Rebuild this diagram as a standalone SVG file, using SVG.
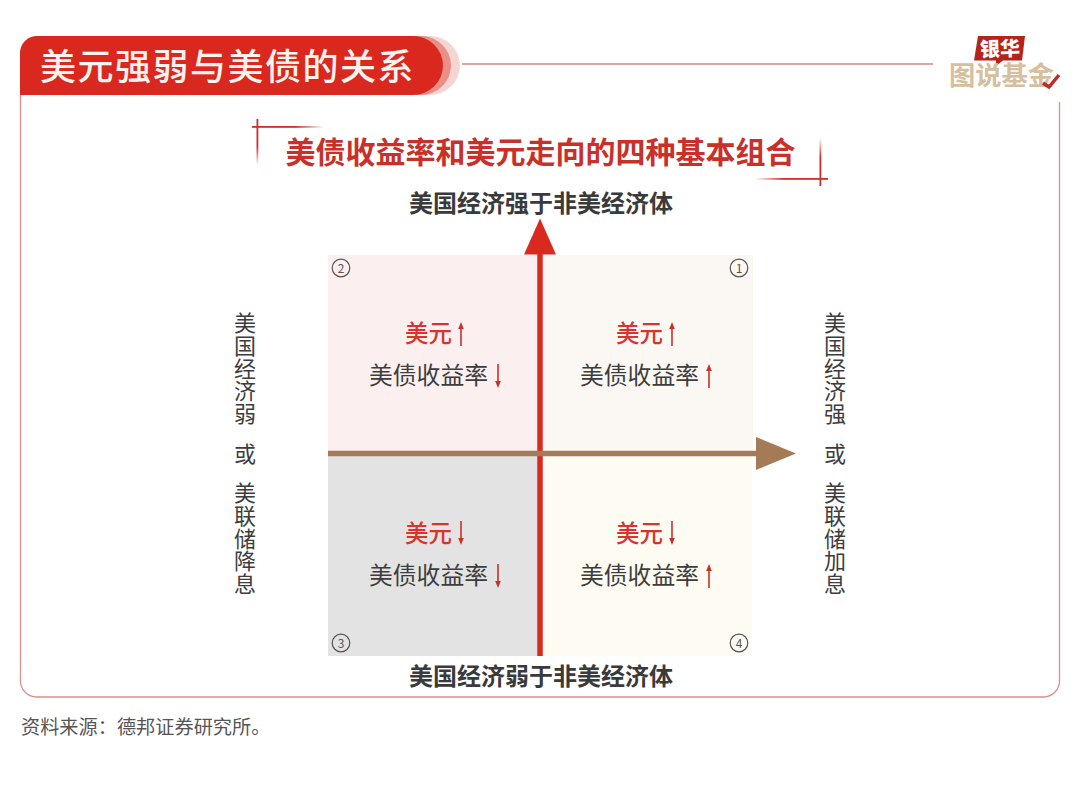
<svg xmlns="http://www.w3.org/2000/svg" width="1080" height="791" viewBox="0 0 1080 791">
<style>
text{font-family:"Noto Sans CJK SC","Liberation Sans",sans-serif}
.ax{font-size:24px;font-weight:700;fill:#3a3a3a;text-anchor:middle}
.us{font-size:23.5px;font-weight:500;fill:#d9342b;text-anchor:middle}
.by{font-size:23.8px;fill:#3d3d3d;text-anchor:middle}
.v{font-size:22px;fill:#3d3d3d;writing-mode:vertical-rl;letter-spacing:0.7px}
.n{font-size:12px;fill:#555;text-anchor:middle}
.c{fill:none;stroke:#555;stroke-width:1.2}
.a{stroke:#c9302a;stroke-width:1.6;fill:none}
.h{fill:#c9302a}
</style>
<defs>
<linearGradient id="fh" x1="0" x2="1" y1="0" y2="0"><stop offset="0.6" stop-color="#c9302a"/><stop offset="1" stop-color="#c9302a" stop-opacity="0"/></linearGradient>
<linearGradient id="fv" x1="0" x2="0" y1="0" y2="1"><stop offset="0.6" stop-color="#c9302a"/><stop offset="1" stop-color="#c9302a" stop-opacity="0"/></linearGradient>
<linearGradient id="fh2" x1="1" x2="0" y1="0" y2="0"><stop offset="0.6" stop-color="#c9302a"/><stop offset="1" stop-color="#c9302a" stop-opacity="0"/></linearGradient>
<linearGradient id="fv2" x1="0" x2="0" y1="1" y2="0"><stop offset="0.6" stop-color="#c9302a"/><stop offset="1" stop-color="#c9302a" stop-opacity="0"/></linearGradient>
<g id="up"><path class="a" d="M0 -9V12"/><path class="h" d="M0 -12L-2.8 -5H2.8Z"/></g>
<g id="dn"><path class="a" d="M0 -12V9"/><path class="h" d="M0 12L-2.8 5H2.8Z"/></g>
</defs>
<rect width="1080" height="791" fill="#fff"/>
<g id="frame">
<path d="M20.500 95V681a16 16 0 0 0 16 16H1043.500a16 16 0 0 0 16 -16V102" fill="none" stroke="#d9908b" stroke-width="1.300"/>
<path d="M462 64H933" stroke="#d08a84" stroke-width="1.300" fill="none"/>
</g>
<g id="banner">
<path d="M40 36H430a30 29.500 0 0 1 0 59H40Z" fill="#f5d5d2"/>
<path d="M40 36H421a30 29.500 0 0 1 0 59H40Z" fill="#e88f88"/>
<path d="M37 36H413a30 29.500 0 0 1 0 59H20V53a17 17 0 0 1 17 -17Z" fill="#da281e"/>
<text x="40" y="80" font-size="36" letter-spacing="1.500" fill="#fdf3ee" font-weight="500">美元强弱与美债的关系</text>
</g>
<g id="logo">
<path d="M978 36H1025L1022 60.500H1003L996 66V60.500H974Z" fill="#b5231b"/>
<text x="980" y="56" font-size="20" font-weight="900" fill="#fff" textLength="40" transform="rotate(-2 1000 50)">银华</text>
<text x="949" y="85" font-size="26" font-weight="700" fill="#d5bf9f" textLength="105" lengthAdjust="spacingAndGlyphs">图说基金</text>
<path d="M1043 83L1049 87L1059 75" fill="none" stroke="#c02a24" stroke-width="3.500"/>
</g>
<g id="heading">
<rect x="252" y="126" width="72" height="1.800" fill="url(#fh)"/>
<rect x="256.500" y="119" width="1.800" height="46" fill="url(#fv)"/>
<rect x="755" y="178" width="73" height="1.800" fill="url(#fh2)"/>
<rect x="819.500" y="138" width="1.800" height="48" fill="url(#fv2)"/>
<text x="540.500" y="163" font-size="30" font-weight="700" fill="#c9302a" text-anchor="middle">美债收益率和美元走向的四种基本组合</text>
</g>
<g id="q2"><rect x="328" y="255" width="212" height="198" fill="#fcefef"/>
<circle class="c" cx="341" cy="268" r="8.800"/><text class="n" x="341" y="272.500">2</text>
<text class="us" x="428.500" y="341.500">美元</text><use href="#up" x="461" y="334"/>
<text class="by" x="428.500" y="383.500">美债收益率</text><use href="#dn" x="498" y="376"/></g>
<g id="q1"><rect x="540" y="255" width="213" height="198" fill="#fbf8f3"/>
<circle class="c" cx="739" cy="268" r="8.800"/><text class="n" x="739" y="272.500">1</text>
<text class="us" x="639.500" y="341.500">美元</text><use href="#up" x="672" y="334"/>
<text class="by" x="639.500" y="383.500">美债收益率</text><use href="#up" x="709" y="376"/></g>
<g id="q3"><rect x="328" y="453" width="212" height="203" fill="#e3e3e3"/>
<circle class="c" cx="341" cy="643" r="8.800"/><text class="n" x="341" y="647.500">3</text>
<text class="us" x="428.500" y="541.500">美元</text><use href="#dn" x="461" y="533"/>
<text class="by" x="428.500" y="584">美债收益率</text><use href="#dn" x="498" y="576"/></g>
<g id="q4"><rect x="540" y="453" width="212" height="203" fill="#fefbf2"/>
<circle class="c" cx="739" cy="643" r="8.800"/><text class="n" x="739" y="647.500">4</text>
<text class="us" x="639.500" y="541.500">美元</text><use href="#dn" x="672" y="533"/>
<text class="by" x="639.500" y="584">美债收益率</text><use href="#up" x="709" y="576"/></g>
<g id="connectors">
<path d="M540 656V254" stroke="#d92a20" stroke-width="5.500" fill="none"/>
<path d="M540 218.500L556 254.500H524Z" fill="#d92a20"/>
<path d="M328 453.500H758" stroke="#a57a57" stroke-width="5.500" fill="none"/>
<path d="M796 453.500L756 437V470Z" fill="#a57a57"/>
</g>
<g id="labels">
<text class="ax" x="541" y="212">美国经济强于非美经济体</text>
<text class="ax" x="541" y="685">美国经济弱于非美经济体</text>
<text class="v" x="245" y="312">美国经济弱</text>
<text class="v" x="245" y="443">或</text>
<text class="v" x="245" y="482">美联储降息</text>
<text class="v" x="835" y="312">美国经济强</text>
<text class="v" x="835" y="443">或</text>
<text class="v" x="835" y="482">美联储加息</text>
<text x="21" y="734" font-size="19.200" fill="#555">资料来源：德邦证券研究所。</text>
</g>
</svg>
